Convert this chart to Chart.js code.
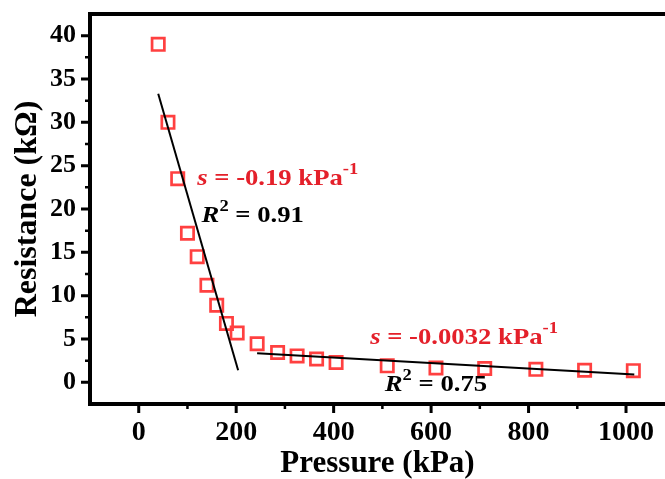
<!DOCTYPE html>
<html>
<head>
<meta charset="utf-8">
<script src="https://cdn.jsdelivr.net/npm/chart.js@4/dist/chart.umd.min.js"></script>
<style>
  html, body { margin: 0; padding: 0; background: #fff; overflow: hidden; }
  #wrap { width: 665px; height: 479px; position: relative; }
</style>
</head>
<body>
<div id="wrap"><canvas id="chart"></canvas></div>
<script>
// measured points (pressure in kPa, resistance in kOhm)
const pressure = [40, 60, 80, 100, 120, 140, 160, 180, 202, 243, 285, 325, 365, 405, 510, 610, 710, 815, 915, 1015];
const resistance = [39.0, 30.0, 23.5, 17.2, 14.5, 11.2, 8.9, 6.8, 5.7, 4.45, 3.45, 3.05, 2.7, 2.3, 1.9, 1.65, 1.6, 1.5, 1.4, 1.35];

// linear fits, end points
const fitLowX = [40, 204];
const fitLowY = [33.3, 1.4];
const fitHighX = [243, 1017];
const fitHighY = [3.36, 0.89];

const xTicks = [0, 200, 400, 600, 800, 1000];
const xMinorTicks = [100, 300, 500, 700, 900];
const yTicks = [0, 5, 10, 15, 20, 25, 30, 35, 40];
const yMinorTicks = [2.5, 7.5, 12.5, 17.5, 22.5, 27.5, 32.5, 37.5];

const RED_TEXT = "#e4202a";
const RED_MARK = "rgb(255, 64, 64)";
const SERIF = "'Liberation Serif', 'Times New Roman', serif";

// text labels: left edge x, middle y, pieces
const notes = [
  { x: 120, y: 23.45, color: RED_TEXT, parts: [["s", "i"], [" = -0.19 kPa", ""], ["-1", "sup"]] },
  { x: 129, y: 19.2, color: "#000", parts: [["R", "i"], ["2", "sup"], [" = 0.91", ""]] },
  { x: 475, y: 5.1, color: RED_TEXT, parts: [["s", "i"], [" = -0.0032 kPa", ""], ["-1", "sup"]] },
  { x: 505, y: -0.3, color: "#000", parts: [["R", "i"], ["2", "sup"], [" = 0.75", ""]] },
];

const framePlugin = {
  id: "frame",
  beforeDatasetsDraw(chart) {
    const { ctx, chartArea: a, scales } = chart;
    ctx.save();
    ctx.strokeStyle = "#000";
    ctx.lineCap = "butt";
    // major ticks
    ctx.lineWidth = 3;
    ctx.beginPath();
    xTicks.forEach((v) => {
      const px = scales.x.getPixelForValue(v);
      ctx.moveTo(px, a.bottom); ctx.lineTo(px, a.bottom + 9);
    });
    yTicks.forEach((v) => {
      const py = scales.y.getPixelForValue(v);
      ctx.moveTo(a.left, py); ctx.lineTo(a.left - 9, py);
    });
    ctx.stroke();
    // minor ticks
    ctx.lineWidth = 2.5;
    ctx.beginPath();
    xMinorTicks.forEach((v) => {
      const px = scales.x.getPixelForValue(v);
      ctx.moveTo(px, a.bottom); ctx.lineTo(px, a.bottom + 5);
    });
    yMinorTicks.forEach((v) => {
      const py = scales.y.getPixelForValue(v);
      ctx.moveTo(a.left, py); ctx.lineTo(a.left - 5, py);
    });
    ctx.stroke();
    // frame (right side is outside the picture)
    ctx.lineWidth = 4;
    ctx.lineCap = "square";
    ctx.beginPath();
    ctx.moveTo(a.right + 5, a.top);
    ctx.lineTo(a.left, a.top);
    ctx.lineTo(a.left, a.bottom);
    ctx.lineTo(a.right + 5, a.bottom);
    ctx.stroke();
    ctx.restore();
  },
  afterDatasetsDraw(chart) {
    const { ctx, scales } = chart;
    ctx.save();
    ctx.textBaseline = "middle";
    notes.forEach((n) => {
      ctx.save();
      ctx.translate(scales.x.getPixelForValue(n.x), scales.y.getPixelForValue(n.y));
      ctx.scale(1.16, 1);
      ctx.fillStyle = n.color;
      let px = 0;
      n.parts.forEach(([t, kind]) => {
        if (kind === "sup") {
          ctx.font = `bold 16px ${SERIF}`;
          ctx.fillText(t, px, -9);
        } else {
          ctx.font = `${kind === "i" ? "italic " : ""}bold 23px ${SERIF}`;
          ctx.fillText(t, px, 0);
        }
        px += ctx.measureText(t).width;
      });
      ctx.restore();
    });
    ctx.restore();
  },
};

new Chart(document.getElementById("chart"), {
  type: "scatter",
  data: {
    datasets: [
      {
        type: "line",
        data: fitLowX.map((x, i) => ({ x, y: fitLowY[i] })),
        borderColor: "#000",
        borderWidth: 2,
        pointRadius: 0,
        order: 0,
      },
      {
        type: "line",
        data: fitHighX.map((x, i) => ({ x, y: fitHighY[i] })),
        borderColor: "#000",
        borderWidth: 2,
        pointRadius: 0,
        order: 0,
      },
      {
        data: pressure.map((x, i) => ({ x, y: resistance[i] })),
        pointStyle: "rect",
        pointRadius: 8.7,
        pointBorderWidth: 2.7,
        pointBorderColor: RED_MARK,
        pointBackgroundColor: "rgba(0,0,0,0)",
        order: 1,
      },
    ],
  },
  options: {
    responsive: true,
    maintainAspectRatio: false,
    animation: false,
    layout: { autoPadding: false, padding: { top: 14, right: 0, bottom: 0, left: 0 } },
    plugins: { legend: { display: false }, tooltip: { enabled: false } },
    scales: {
      x: {
        type: "linear",
        min: -100,
        max: 1080,
        afterFit: (s) => { s.height = 75; s.paddingLeft = 0; s.paddingRight = 0; },
        afterBuildTicks: (s) => { s.ticks = xTicks.map((v) => ({ value: v })); },
        grid: { display: false, drawTicks: false },
        border: { display: false },
        ticks: {
          padding: 12,
          color: "#000",
          callback: (v) => String(v),
          font: { family: SERIF, size: 28, weight: "bold" },
        },
        title: {
          display: true,
          text: "Pressure (kPa)",
          color: "#000",
          font: { family: SERIF, size: 31, weight: "bold" },
          padding: { top: 0, bottom: -4 },
        },
      },
      y: {
        type: "linear",
        min: -2.5,
        max: 42.5,
        afterFit: (s) => { s.width = 90; s.paddingTop = 0; s.paddingBottom = 0; },
        afterBuildTicks: (s) => { s.ticks = yTicks.map((v) => ({ value: v })); },
        grid: { display: false, drawTicks: false },
        border: { display: false },
        ticks: {
          padding: 14,
          color: "#000",
          font: { family: SERIF, size: 26, weight: "bold" },
        },
        title: {
          display: true,
          text: "Resistance (kΩ)",
          color: "#000",
          font: { family: SERIF, size: 32, weight: "bold" },
          padding: { top: 9, bottom: 0 },
        },
      },
    },
  },
  plugins: [framePlugin],
});
</script>
</body>
</html>
